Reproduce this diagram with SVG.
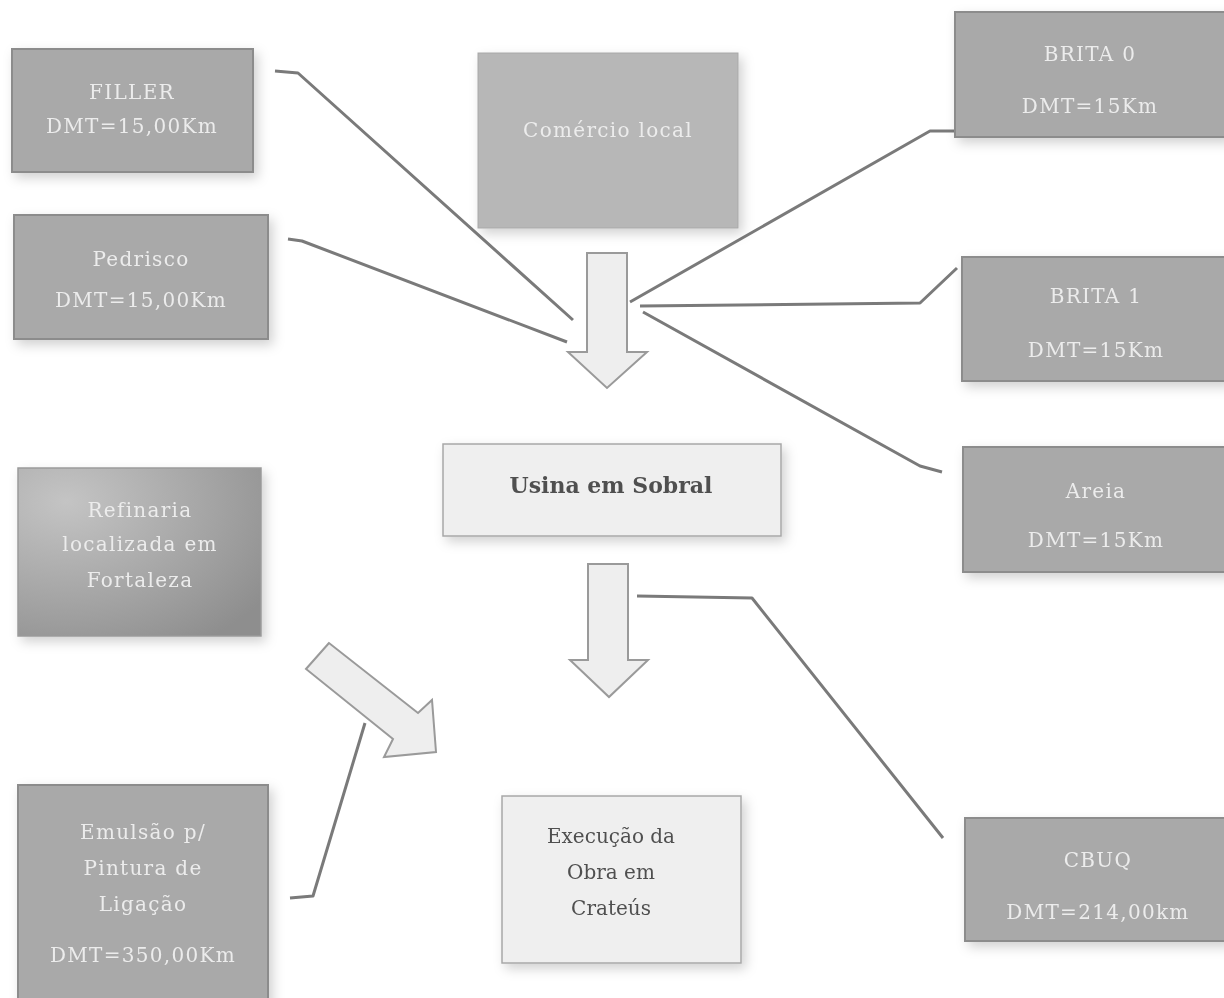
<svg xmlns="http://www.w3.org/2000/svg" width="1224" height="998" viewBox="0 0 1224 998">
<defs>
<filter id="sh" x="-20%" y="-20%" width="150%" height="150%">
<feDropShadow dx="4" dy="5" stdDeviation="6" flood-color="#000" flood-opacity="0.18"/>
</filter>
<radialGradient id="refg" cx="0.2" cy="0.2" r="1">
<stop offset="0" stop-color="#c4c4c4"/>
<stop offset="0.6" stop-color="#a4a4a4"/>
<stop offset="1" stop-color="#8e8e8e"/>
</radialGradient>
<style>
.gbox{fill:#a9a9a9;stroke:#8c8c8c;stroke-width:2}
.lbox{fill:#efefef;stroke:#a8a8a8;stroke-width:1.5}
.wt{font-family:"DejaVu Serif","Liberation Serif",serif;font-size:20px;letter-spacing:1.3px;fill:#ececec;text-anchor:middle}
.dt{font-family:"DejaVu Serif","Liberation Serif",serif;font-size:20px;fill:#505050;text-anchor:middle}
.con{fill:none;stroke:#7a7a7a;stroke-width:3;stroke-linejoin:round}
.arr{fill:#eeeeee;stroke:#9a9a9a;stroke-width:2}
</style>
</defs>
<rect width="1224" height="998" fill="#ffffff"/>

<g id="connectors">
<polyline class="con" points="275,71 298,73 573,320"/>
<polyline class="con" points="288,239 302,241 567,342"/>
<polyline class="con" points="955,131 930,131 630,302"/>
<polyline class="con" points="640,306 920,303 957,268"/>
<polyline class="con" points="643,312 920,466 942,472"/>
<polyline class="con" points="637,596 752,598 943,838"/>
<polyline class="con" points="290,898 313,896 365,723"/>
</g>

<g id="arrows">
<polygon class="arr" points="587,253 627,253 627,352 647,352 607,388 568,352 587,352"/>
<polygon class="arr" points="588,564 628,564 628,660 648,660 609,697 570,660 588,660"/>
<polygon class="arr" points="329,643 306,669 393,739 384,757 436,752 432,700 418,713"/>
</g>

<g id="filler" filter="url(#sh)">
<rect class="gbox" x="12" y="49" width="241" height="123"/>
<text class="wt" x="132" y="99">FILLER</text>
<text class="wt" x="132" y="133">DMT=15,00Km</text>
</g>

<g id="pedrisco" filter="url(#sh)">
<rect class="gbox" x="14" y="215" width="254" height="124"/>
<text class="wt" x="141" y="266">Pedrisco</text>
<text class="wt" x="141" y="307">DMT=15,00Km</text>
</g>

<g id="comercio" filter="url(#sh)">
<rect x="478" y="53" width="260" height="175" fill="#b7b7b7" stroke="#a8a8a8" stroke-width="1"/>
<text class="wt" x="608" y="137">Comércio local</text>
</g>

<g id="brita0" filter="url(#sh)">
<rect class="gbox" x="955" y="12" width="275" height="125"/>
<text class="wt" x="1090" y="61">BRITA 0</text>
<text class="wt" x="1090" y="113">DMT=15Km</text>
</g>

<g id="brita1" filter="url(#sh)">
<rect class="gbox" x="962" y="257" width="268" height="124"/>
<text class="wt" x="1096" y="303">BRITA 1</text>
<text class="wt" x="1096" y="357">DMT=15Km</text>
</g>

<g id="areia" filter="url(#sh)">
<rect class="gbox" x="963" y="447" width="267" height="125"/>
<text class="wt" x="1096" y="498">Areia</text>
<text class="wt" x="1096" y="547">DMT=15Km</text>
</g>

<g id="refinaria" filter="url(#sh)">
<rect x="18" y="468" width="243" height="168" fill="url(#refg)" stroke="#9a9a9a" stroke-width="1.5"/>
<text class="wt" x="140" y="517">Refinaria</text>
<text class="wt" x="140" y="551">localizada em</text>
<text class="wt" x="140" y="587">Fortaleza</text>
</g>

<g id="emulsao" filter="url(#sh)">
<rect class="gbox" x="18" y="785" width="250" height="220"/>
<text class="wt" x="143" y="839">Emulsão p/</text>
<text class="wt" x="143" y="875">Pintura de</text>
<text class="wt" x="143" y="911">Ligação</text>
<text class="wt" x="143" y="962">DMT=350,00Km</text>
</g>

<g id="cbuq" filter="url(#sh)">
<rect class="gbox" x="965" y="818" width="265" height="123"/>
<text class="wt" x="1098" y="867">CBUQ</text>
<text class="wt" x="1098" y="919">DMT=214,00km</text>
</g>

<g id="usina" filter="url(#sh)">
<rect class="lbox" x="443" y="444" width="338" height="92"/>
<text class="dt" x="611" y="493" style="font-weight:bold;font-size:22px">Usina em Sobral</text>
</g>

<g id="execucao" filter="url(#sh)">
<rect class="lbox" x="502" y="796" width="239" height="167"/>
<text class="dt" x="611" y="843">Execução da</text>
<text class="dt" x="611" y="879">Obra em</text>
<text class="dt" x="611" y="915">Crateús</text>
</g>
</svg>
